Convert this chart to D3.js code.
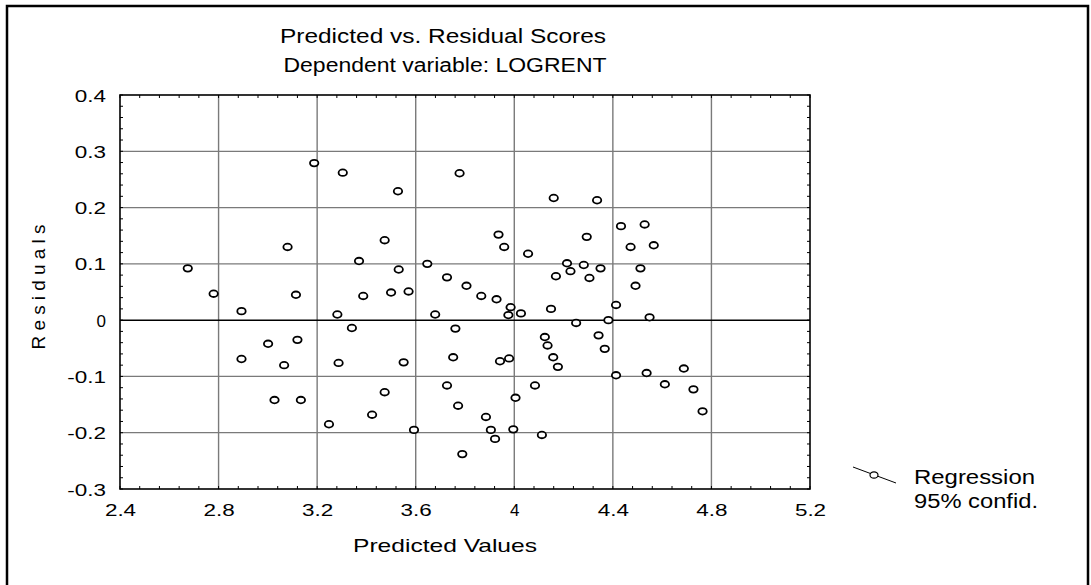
<!DOCTYPE html>
<html>
<head>
<meta charset="utf-8">
<script src="https://cdn.jsdelivr.net/npm/d3@7"></script>
<style>
  body { margin: 0; background: #fff; }
  text { font-family: "Liberation Sans", Arial, sans-serif; fill: #000; }
</style>
</head>
<body>
<svg id="chart" width="1091" height="585"></svg>
<script>
// values
const predicted = [2.675, 2.78, 2.893, 2.893, 3.001, 3.027, 3.066, 3.08, 3.114, 3.12,
  3.134, 3.188, 3.248, 3.282, 3.287, 3.304, 3.341, 3.37, 3.387, 3.423,
  3.474, 3.474, 3.5, 3.528, 3.531, 3.551, 3.571, 3.593, 3.647, 3.679,
  3.727, 3.727, 3.752, 3.761, 3.772, 3.778, 3.789, 3.806, 3.866, 3.885,
  3.905, 3.922, 3.928, 3.936, 3.942, 3.959, 3.976, 3.979, 3.985, 3.996,
  4.005, 4.027, 4.056, 4.084, 4.112, 4.124, 4.135, 4.149, 4.158, 4.16,
  4.169, 4.177, 4.214, 4.228, 4.251, 4.282, 4.294, 4.305, 4.336, 4.342,
  4.35, 4.367, 4.382, 4.413, 4.413, 4.433, 4.472, 4.492, 4.512, 4.529,
  4.537, 4.549, 4.566, 4.611, 4.688, 4.727, 4.764];
const residuals = [0.092, 0.047, 0.016, -0.069, -0.042, -0.142, -0.080, 0.130, 0.045, -0.035,
  -0.142, 0.279, -0.185, 0.010, -0.076, 0.262, -0.014, 0.105, 0.043, -0.168,
  0.142, -0.128, 0.049, 0.229, 0.090, -0.075, 0.051, -0.195, 0.100, 0.010,
  0.076, -0.116, -0.066, -0.015, -0.152, 0.261, -0.238, 0.061, 0.043, -0.172,
  -0.195, -0.211, 0.037, 0.152, -0.073, 0.130, 0.009, -0.068, 0.023, -0.194,
  -0.138, 0.012, 0.118, -0.116, -0.204, -0.030, -0.045, 0.020, -0.066, 0.217,
  0.078, -0.083, 0.101, 0.087, -0.005, 0.098, 0.148, 0.075, 0.213, -0.027,
  0.092, -0.051, 0.000, 0.027, -0.098, 0.167, 0.130, 0.061, 0.092, 0.170,
  -0.094, 0.005, 0.133, -0.114, -0.086, -0.123, -0.162];

const xTicks = [2.4, 2.8, 3.2, 3.6, 4, 4.4, 4.8, 5.2];
const yTicks = [-0.3, -0.2, -0.1, 0, 0.1, 0.2, 0.3, 0.4];
const titleLines = ["Predicted vs. Residual Scores", "Dependent variable: LOGRENT"];
const legendLines = ["Regression", "95% confid."];

const svg = d3.select("#chart");
const plotLeft = 120, plotRight = 810, plotTop = 95, plotBottom = 489;

const x = d3.scaleLinear().domain([2.4, 5.2]).range([plotLeft, plotRight]);
const y = d3.scaleLinear().domain([-0.3, 0.4]).range([plotBottom, plotTop]);

// stretch a text horizontally, the reference fonts are wide
function widen(sel, factor) {
  sel.each(function() {
    const len = this.getComputedTextLength();
    if (this.textContent.length > 1) {
      d3.select(this).attr("textLength", len * factor).attr("lengthAdjust", "spacingAndGlyphs");
    }
  });
}
function fitTo(sel, width) {
  sel.attr("textLength", width).attr("lengthAdjust", "spacingAndGlyphs");
}

// outer frame
svg.append("path")
  .attr("d", "M7,600 V6 H1088 V600")
  .attr("fill", "none")
  .attr("stroke", "#000")
  .attr("stroke-width", 2.5);

// titles
const t1 = svg.append("text").attr("x", 443).attr("y", 43)
  .attr("text-anchor", "middle").style("font-size", "19.5px").text(titleLines[0]);
fitTo(t1, 326);
const t2 = svg.append("text").attr("x", 445).attr("y", 72)
  .attr("text-anchor", "middle").style("font-size", "19.5px").text(titleLines[1]);
fitTo(t2, 323);

// grid
const grid = svg.append("g");
grid.selectAll(".vgrid")
  .data(xTicks.slice(1, -1))
  .enter().append("line")
  .attr("x1", d => x(d)).attr("x2", d => x(d))
  .attr("y1", plotTop).attr("y2", plotBottom)
  .attr("stroke", "#7a7a7a").attr("stroke-width", 1.4);
grid.selectAll(".hgrid")
  .data(yTicks.slice(1, -1).filter(d => d !== 0))
  .enter().append("line")
  .attr("x1", plotLeft).attr("x2", plotRight)
  .attr("y1", d => y(d)).attr("y2", d => y(d))
  .attr("stroke", "#7a7a7a").attr("stroke-width", 1.3);
grid.append("line")
  .attr("x1", plotLeft).attr("x2", plotRight)
  .attr("y1", y(0)).attr("y2", y(0))
  .attr("stroke", "#000").attr("stroke-width", 1.5);

// minor ticks inside the frame
const xMinor = d3.range(0, 36).map(i => 2.4 + i * 0.08);
const yMinor = d3.range(0, 36).map(i => -0.3 + i * 0.02);
const ticks = svg.append("g").attr("stroke", "#000").attr("stroke-width", 1);
ticks.selectAll(".xb").data(xMinor).enter().append("line")
  .attr("x1", d => x(d)).attr("x2", d => x(d)).attr("y1", plotBottom).attr("y2", plotBottom - 3);
ticks.selectAll(".xt").data(xMinor).enter().append("line")
  .attr("x1", d => x(d)).attr("x2", d => x(d)).attr("y1", plotTop).attr("y2", plotTop + 3);
ticks.selectAll(".yl").data(yMinor).enter().append("line")
  .attr("x1", plotLeft).attr("x2", plotLeft + 3).attr("y1", d => y(d)).attr("y2", d => y(d));
ticks.selectAll(".yr").data(yMinor).enter().append("line")
  .attr("x1", plotRight).attr("x2", plotRight - 3).attr("y1", d => y(d)).attr("y2", d => y(d));

// plot frame
svg.append("rect")
  .attr("x", plotLeft).attr("y", plotTop)
  .attr("width", plotRight - plotLeft).attr("height", plotBottom - plotTop)
  .attr("fill", "none").attr("stroke", "#000").attr("stroke-width", 1.6);

// axes labels
const xAxis = svg.append("g")
  .attr("transform", "translate(0," + plotBottom + ")")
  .call(d3.axisBottom(x).tickValues(xTicks).tickSize(0).tickPadding(0).tickFormat(d => String(d)));
xAxis.select(".domain").remove();
xAxis.selectAll("text")
  .attr("y", 27).attr("dy", null)
  .style("font-size", "17px")
  .call(widen, 1.32);

const yAxis = svg.append("g")
  .attr("transform", "translate(106,0)")
  .call(d3.axisLeft(y).tickValues(yTicks).tickSize(0).tickPadding(0).tickFormat(d => String(d)));
yAxis.select(".domain").remove();
yAxis.selectAll("text")
  .attr("x", 0).attr("dy", "0.36em")
  .style("font-size", "17px")
  .call(widen, 1.32);

const xt = svg.append("text").attr("x", 445).attr("y", 552)
  .attr("text-anchor", "middle").style("font-size", "19px").text("Predicted Values");
fitTo(xt, 184);

const yt = svg.append("text")
  .attr("transform", "translate(45,287) rotate(-90)")
  .attr("text-anchor", "middle").style("font-size", "19px").text("Residuals");
yt.attr("textLength", 125).attr("lengthAdjust", "spacing");

// points
svg.append("g").selectAll(".point")
  .data(predicted.map((p, i) => [p, residuals[i]]))
  .enter().append("ellipse")
  .attr("cx", d => x(d[0]))
  .attr("cy", d => y(d[1]))
  .attr("rx", 4.2).attr("ry", 3.3)
  .attr("fill", "#fff").attr("stroke", "#000").attr("stroke-width", 1.8);

// legend
const lg = svg.append("g");
lg.append("line")
  .attr("x1", 853).attr("y1", 467).attr("x2", 896).attr("y2", 483)
  .attr("stroke", "#000").attr("stroke-width", 1);
lg.append("ellipse")
  .attr("cx", 874).attr("cy", 475).attr("rx", 4).attr("ry", 3.2)
  .attr("fill", "#fff").attr("stroke", "#000").attr("stroke-width", 1.2);
const l1 = lg.append("text").attr("x", 914).attr("y", 484).style("font-size", "20px").text(legendLines[0]);
fitTo(l1, 121);
const l2 = lg.append("text").attr("x", 914).attr("y", 508).style("font-size", "20px").text(legendLines[1]);
fitTo(l2, 124);
</script>
</body>
</html>
